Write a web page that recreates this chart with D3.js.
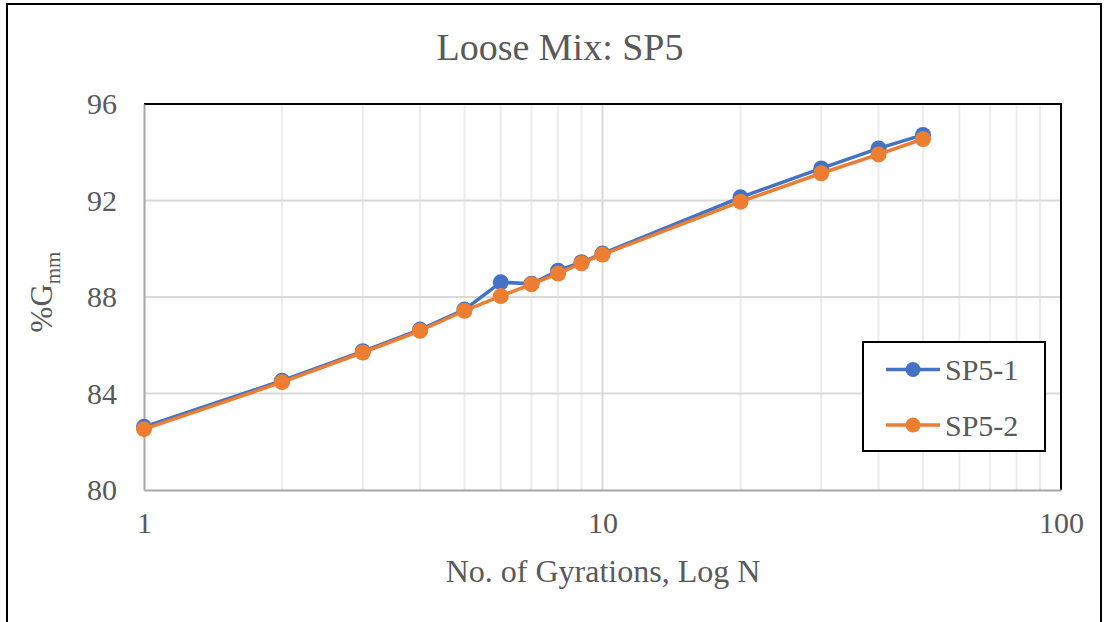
<!DOCTYPE html>
<html>
<head>
<meta charset="utf-8">
<script src="https://cdn.jsdelivr.net/npm/d3@7"></script>
<style>
  html, body { margin: 0; padding: 0; background: #fff; }
  svg { display: block; }
  text { font-family: "Times New Roman", Times, "Liberation Serif", "DejaVu Serif", serif; fill: #595959; }
</style>
</head>
<body>
<svg id="chart" width="1104" height="622"></svg>
<script>
const gyrations = [1, 2, 3, 4, 5, 6, 7, 8, 9, 10, 20, 30, 40, 50];
const sp5_1 = [82.62, 84.53, 85.75, 86.65, 87.48, 88.61, 88.55, 89.09, 89.44, 89.80, 92.13, 93.33, 94.16, 94.72];
const sp5_2 = [82.52, 84.47, 85.70, 86.60, 87.43, 88.04, 88.53, 88.97, 89.40, 89.76, 91.95, 93.13, 93.91, 94.55];
const seriesNames = ["SP5-1", "SP5-2"];
const seriesColors = ["#4472C4", "#ED7D31"];
const yTicks = [80, 84, 88, 92, 96];
const xTicks = [1, 10, 100];
const xGrid = [2, 3, 4, 5, 6, 7, 8, 9, 10, 20, 30, 40, 50, 60, 70, 80, 90];
const titleText = "Loose Mix: SP5";
const xTitle = "No. of Gyrations, Log N";

const FONT = '"Times New Roman", Times, "Liberation Serif", "DejaVu Serif", serif';
const svg = d3.select("#chart");
const L = 144, R = 1061, T = 104, B = 490;

const x = d3.scaleLog().domain([1, 100]).range([L, R]);
const y = d3.scaleLinear().domain([80, 96]).range([B, T]);

// outer frame (left, top, right)
svg.append("path")
  .attr("d", `M7,622 L7,4 L1101,4 L1101,622`)
  .attr("fill", "none").attr("stroke", "#000").attr("stroke-width", 2);

// vertical gridlines
svg.append("g").selectAll("line").data(xGrid).join("line")
  .attr("x1", d => x(d)).attr("x2", d => x(d))
  .attr("y1", T).attr("y2", B)
  .attr("stroke", d => d === 10 ? "#d9d9d9" : "#ececec")
  .attr("stroke-width", 2);

// horizontal gridlines
svg.append("g").selectAll("line").data(yTicks.filter(d => d > 80 && d < 96)).join("line")
  .attr("x1", L).attr("x2", R)
  .attr("y1", d => y(d)).attr("y2", d => y(d))
  .attr("stroke", "#d9d9d9").attr("stroke-width", 2);

// plot area top & right border (black)
svg.append("path")
  .attr("d", `M${L},${y(96)} L${R},${y(96)} L${R},${B}`)
  .attr("fill", "none").attr("stroke", "#000").attr("stroke-width", 2);

// axes
const yAxis = d3.axisLeft(y).tickValues(yTicks).tickSize(0).tickPadding(27).tickFormat(d3.format("d"));
const gy = svg.append("g").attr("transform", `translate(${L},0)`).call(yAxis).attr("font-family", FONT);
gy.select(".domain").attr("stroke", "#a6a6a6").attr("stroke-width", 2);
gy.selectAll("text").style("font-size", "30px").style("font-family", FONT).attr("fill", "#595959");

const xAxis = d3.axisBottom(x).tickValues(xTicks).tickSize(0).tickPadding(22).tickFormat(d3.format("d"));
const gx = svg.append("g").attr("transform", `translate(0,${B})`).call(xAxis).attr("font-family", FONT);
gx.select(".domain").attr("stroke", "#a6a6a6").attr("stroke-width", 2);
gx.selectAll("text").style("font-size", "30px").style("font-family", FONT).attr("fill", "#595959");

// series
const seriesData = [sp5_1, sp5_2];
const line = d3.line().x(d => x(d[0])).y(d => y(d[1]));
seriesData.forEach((vals, i) => {
  const pts = gyrations.map((n, k) => [n, vals[k]]);
  const g = svg.append("g");
  g.append("path").datum(pts).attr("d", line)
    .attr("fill", "none").attr("stroke", seriesColors[i]).attr("stroke-width", 3.5)
    .attr("stroke-linejoin", "round");
  g.selectAll("circle").data(pts).join("circle")
    .attr("cx", d => x(d[0])).attr("cy", d => y(d[1])).attr("r", 8)
    .attr("fill", seriesColors[i]);
});

// title
svg.append("text").attr("x", 560).attr("y", 60).attr("text-anchor", "middle")
  .style("font-family", FONT).style("font-size", "38px").text(titleText);

// x axis title
svg.append("text").attr("x", 603).attr("y", 582).attr("text-anchor", "middle")
  .style("font-family", FONT).style("font-size", "32px").text(xTitle);

// y axis title
const yt = svg.append("text").attr("transform", "translate(52,292) rotate(-90)")
  .attr("text-anchor", "middle").style("font-family", FONT).style("font-size", "31px");
yt.append("tspan").text("%G");
yt.append("tspan").attr("dy", 8).style("font-size", "21px").text("mm");

// legend
const lg = svg.append("g");
lg.append("rect").attr("x", 863).attr("y", 342).attr("width", 182).attr("height", 109)
  .attr("fill", "#fff").attr("stroke", "#000").attr("stroke-width", 2);
seriesNames.forEach((name, i) => {
  const cy = 369.5 + i * 55.5;
  lg.append("line").attr("x1", 886).attr("x2", 940).attr("y1", cy).attr("y2", cy)
    .attr("stroke", seriesColors[i]).attr("stroke-width", 3.5);
  lg.append("circle").attr("cx", 913).attr("cy", cy).attr("r", 7.5).attr("fill", seriesColors[i]);
  lg.append("text").attr("x", 945).attr("y", cy + 10.5).style("font-family", FONT).style("font-size", "30px").text(name);
});
</script>
</body>
</html>
